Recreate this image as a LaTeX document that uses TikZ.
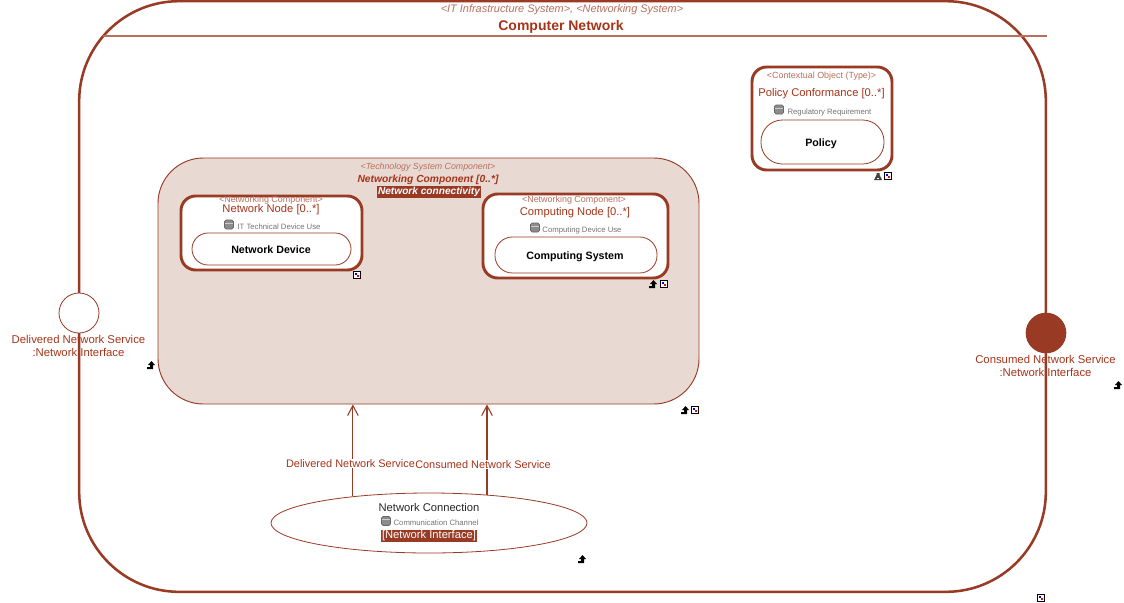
\documentclass[tikz,border=0pt]{standalone}
\usepackage{fontspec}
\setmainfont{Liberation Sans}
\usepackage{xcolor}
\usetikzlibrary{arrows.meta}
\usetikzlibrary{shapes.geometric}
\definecolor{netred}{HTML}{983A24}
\definecolor{nettext}{HTML}{A53418}
\definecolor{netpale}{HTML}{B8705E}
\definecolor{netfill}{HTML}{E9D9D3}
\tikzset{
  roundbox/.style={draw=netred,rounded corners=#1,line width=2.2pt,fill=white},
  innerbox/.style={draw=netred,rounded corners=#1,line width=0.6pt,fill=white},
  stereo/.style={font=\fontsize{6.7}{8}\selectfont,text=netpale},
  typename/.style={font=\fontsize{8.4}{10}\selectfont,text=nettext},
  usename/.style={font=\fontsize{5.8}{7}\selectfont,text=black!55},
  objname/.style={font=\fontsize{8}{10}\selectfont\bfseries,text=black},
  flag/.style={font=\fontsize{8.4}{10}\selectfont,text=white,fill=netred,inner sep=0.8pt},
  link/.style={draw=netred,line width=0.8pt,-{Straight Barb[length=7.5pt,width=8pt]}},
  dbicon/.pic={
    \draw[fill=black!45,draw=black!60,line width=0.5pt,rounded corners=1.2pt] (-4.5,-4.5) rectangle (4.5,4.5);
    \draw[black!20,line width=0.5pt] (-4,-1.5) -- (4,-1.5);
  },
  returnmark/.pic={
    \fill[black] (-4,4) -- (2,4) -- (2,0) -- (4,0) -- (0.5,-4) -- (-3,0) -- (-1,0) -- (-1,2.2) -- (-4,2.2) -- cycle;
  },
  linkmark/.pic={
    \draw[black,fill=white,line width=0.8pt] (-3.5,-3.5) rectangle (3.5,3.5);
    \fill[blue] (-2,-2) rectangle (0,0);
    \fill[red] (0,0) rectangle (2,2);
  },
  warnmark/.pic={
    \fill[black!75] (-4,4) -- (-1.5,-1) -- (-1.5,-3) -- (1.5,-3) -- (1.5,-1) -- (4,4) -- cycle;
    \fill[white] (-1,2) rectangle (1,3);
  }
}
\begin{document}
\begin{tikzpicture}[
  x=0.75pt,y=-0.75pt,
  every node/.style={inner sep=0pt,align=center}
]
  \useasboundingbox (0,0) rectangle (1124,603);

  \node[draw=netred,line width=1.9pt,rounded corners=75pt,minimum width=725pt,minimum height=443pt] (network) at (562.5,296.5) {};
  \coordinate (ruleleft) at (103,36);
  \draw[netpale,line width=0.8pt] (ruleleft) -- (ruleleft -| network.east);
  \node[stereo,font=\fontsize{8.2}{9}\selectfont\itshape] (networkstereo) at (562,9.5) {<IT Infrastructure System>, <Networking System>};
  \node[font=\fontsize{10.5}{12}\selectfont\bfseries,text=nettext] (networkname) at (561,27) {Computer Network};

  % component
  \node[draw=netred,fill=netfill,line width=0.7pt,rounded corners=34pt,minimum width=405.75pt,minimum height=184.5pt] (component) at (428.5,281) {};
  \node[stereo,font=\fontsize{6.6}{8}\selectfont\itshape] (componentstereo) at (428,167) {<Technology System Component>};
  \node[typename,font=\fontsize{7.7}{10}\selectfont\bfseries\itshape] (componentname) at (428,179.5) {Networking Component [0..*]};
  \node[flag,font=\fontsize{7.6}{10}\selectfont\bfseries\itshape] (componentflag) at (429,192) {Network connectivity};

  \node[roundbox=11pt,minimum width=135.75pt,minimum height=55.5pt] (nodebox) at (271.5,233) {};
  \node[stereo] (nodestereo) at (271,200) {<Networking Component>};
  \node[typename] (nodename) at (271,209.5) {Network Node [0..*]};
  \node[usename] (nodeuse) at (279,227) {IT Technical Device Use};
  \pic at (229,224.5) {dbicon};
  \node[innerbox=12pt,minimum width=119.25pt,minimum height=24pt] (nodeobj) at (271.5,249) {};
  \node[objname] (nodeobjname) at (271,250) {Network Device};

  \node[roundbox=11pt,minimum width=138.75pt,minimum height=63pt] (hostbox) at (575.5,236) {};
  \node[stereo] (hoststereo) at (574,200) {<Networking Component>};
  \node[typename] (hostname) at (575,212.5) {Computing Node [0..*]};
  \node[usename] (hostuse) at (582,230) {Computing Device Use};
  \pic at (535,227.5) {dbicon};
  \node[innerbox=13pt,minimum width=121.5pt,minimum height=27pt] (hostobj) at (576,255) {};
  \node[objname] (hostobjname) at (575,256.5) {Computing System};

  % policy
  \node[roundbox=11pt,minimum width=105pt,minimum height=77.25pt] (policybox) at (822,118.5) {};
  \node[stereo] (policystereo) at (821.5,76) {<Contextual Object (Type)>};
  \node[typename] (policyname) at (821.5,94) {Policy Conformance [0..*]};
  \node[usename] (policyuse) at (829.5,112) {Regulatory Requirement};
  \pic at (779,109.5) {dbicon};
  \node[innerbox=16pt,minimum width=92.25pt,minimum height=33pt] (policyobj) at (822.5,142) {};
  \node[objname] (policyobjname) at (821,144) {Policy};

  % ports
  \node[circle,draw=netred,fill=white,line width=0.6pt,minimum size=30pt] (delivered) at (79,313) {};
  \node[typename,font=\fontsize{8.5}{9.6}\selectfont] (deliveredname) at (78.5,346) {Delivered Network Service\\:Network Interface};
  \node[circle,fill=netred,minimum size=30.5pt] (consumed) at (1046,333) {};
  \node[typename,font=\fontsize{8.5}{9.6}\selectfont] (consumedname) at (1045.5,366) {Consumed Network Service\\:Network Interface};

  % connection
  \node[ellipse,draw=netred,line width=0.6pt,minimum width=237pt,minimum height=45pt] (connection) at (429,523) {};
  \draw[link] (connection.161) ++(1,0) coordinate (deliveredfoot) -- (deliveredfoot |- component.south);
  \draw[link] (connection.26.7) -- (connection.26.7 |- component.south);
  \node[typename,fill=white,font=\fontsize{8.2}{10}\selectfont] (deliveredlink) at (350.5,463.5) {Delivered Network Service};
  \node[typename,fill=white,font=\fontsize{8.2}{10}\selectfont] (consumedlink) at (483,464.5) {Consumed Network Service};
  \node[font=\fontsize{8.4}{10}\selectfont,text=black!85] (connectionname) at (429,507.5) {Network Connection};
  \node[usename] (connectionuse) at (436,522.5) {Communication Channel};
  \pic at (386,521) {dbicon};
  \node[flag] (connectionflag) at (429,536) {[Network Interface]};

  \pic at (357,275) {linkmark};
  \pic at (664,284) {linkmark};
  \pic at (653,284) {returnmark};
  \pic at (695,410) {linkmark};
  \pic at (685,410) {returnmark};
  \pic at (888,176) {linkmark};
  \pic at (878,176) {warnmark};
  \pic at (151,365) {returnmark};
  \pic at (1118,385) {returnmark};
  \pic at (582,559) {returnmark};
  \pic at (1041,598) {linkmark};
\end{tikzpicture}
\end{document}
